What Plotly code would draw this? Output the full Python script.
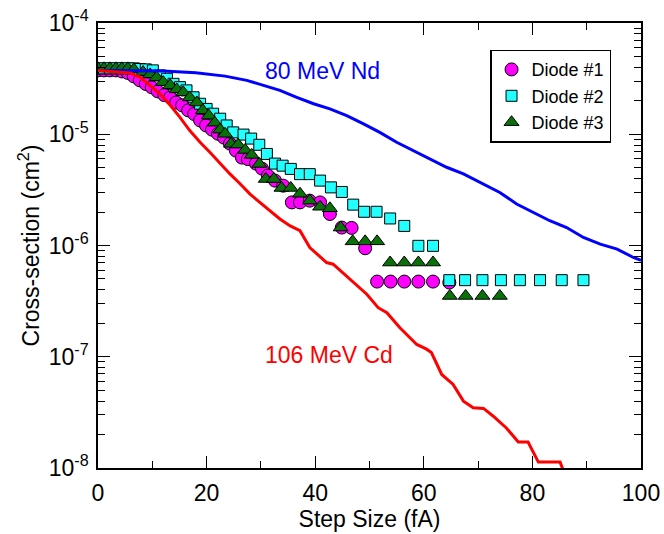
import plotly.graph_objects as go

# ---------------- data ----------------
# 80 MeV Nd (blue curve)
nd_x = [0, 6, 12, 18, 23.4, 27.4, 30.5, 33.5, 36.6, 39.7, 42.7, 45.8, 48.9, 51.9, 55.0, 58.1,
        61.1, 64.2, 67.3, 70.3, 72.2, 74.0, 77.1, 80.2, 83.2, 86.3, 89.4, 92.5, 95.6, 98.6, 100]
nd_y = [3.75e-5, 3.75e-5, 3.71e-5, 3.57e-5, 3.33e-5, 3.05e-5, 2.75e-5, 2.48e-5, 2.15e-5, 1.88e-5,
        1.69e-5, 1.47e-5, 1.24e-5, 1.04e-5, 8.47e-6, 7.13e-6, 6.0e-6, 5.05e-6, 4.40e-6, 3.70e-6,
        3.33e-6, 3.0e-6, 2.36e-6, 1.98e-6, 1.67e-6, 1.45e-6, 1.18e-6, 1.03e-6, 9.29e-7, 7.80e-7, 7.36e-7]

# 106 MeV Cd (red curve)
cd_x = [0, 5.9, 7.7, 9.6, 11.4, 13.3, 15.1, 16.9, 18.8, 20.6, 22.5, 24.3, 26.2, 28.0, 29.8, 31.7,
        33.5, 35.4, 37.2, 39.0, 42.1, 43.3, 46.4, 49.5, 51.6, 53.2, 55.6, 58.7, 60.5, 61.4, 63.3,
        65.4, 67.3, 69.1, 71.0, 72.8, 75.2, 77.4, 79.2, 81.1, 85.1, 86.0]
cd_y = [3.75e-5, 3.56e-5, 3.27e-5, 2.75e-5, 2.31e-5, 1.82e-5, 1.42e-5, 1.08e-5, 8.47e-6, 6.89e-6,
        5.41e-6, 4.40e-6, 3.57e-6, 2.90e-6, 2.44e-6, 2.06e-6, 1.73e-6, 1.50e-6, 1.36e-6, 9.59e-7,
        7.03e-7, 6.79e-7, 4.98e-7, 3.65e-7, 2.76e-7, 2.49e-7, 1.82e-7, 1.29e-7, 1.17e-7, 1.09e-7,
        6.93e-8, 5.64e-8, 3.99e-8, 3.48e-8, 3.43e-8, 2.92e-8, 2.29e-8, 1.71e-8, 1.71e-8, 1.13e-8,
        1.13e-8, 8.7e-9]

# Diode #1 (circles)
d1_x = [0, 1.1, 2.2, 3.3, 4.4, 5.5, 6.6, 7.7, 8.8, 9.9, 11.0, 12.2, 13.3, 14.4, 15.5, 16.6, 17.7,
        18.8, 19.9, 21.0, 22.1, 23.2, 24.3, 25.4, 26.5, 27.6, 29.1, 30.2, 31.3, 32.6, 34.1, 35.7,
        37.2, 39.0, 40.9, 42.7, 44.9, 46.7, 49.2, 51.4, 53.9, 56.4, 59.0, 61.7, 64.7]
d1_y = [3.75e-5, 3.75e-5, 3.75e-5, 3.75e-5, 3.67e-5, 3.56e-5, 3.31e-5, 3.05e-5, 2.83e-5, 2.64e-5,
        2.43e-5, 2.25e-5, 2.14e-5, 1.93e-5, 1.82e-5, 1.64e-5, 1.52e-5, 1.33e-5, 1.20e-5, 1.10e-5,
        1.01e-5, 9.33e-6, 8.24e-6, 7.13e-6, 6.17e-6, 5.98e-6, 5.45e-6, 4.91e-6, 4.25e-6, 3.83e-6,
        3.45e-6, 2.44e-6, 2.44e-6, 2.53e-6, 2.44e-6, 1.92e-6, 1.45e-6, 1.44e-6, 9.44e-7, 4.74e-7,
        4.74e-7, 4.74e-7, 4.74e-7, 4.74e-7, 4.65e-7]

# Diode #2 (squares)
d2_x = [0, 1.1, 2.2, 3.3, 4.4, 5.5, 6.6, 7.7, 8.8, 10.1, 11.4, 12.7, 13.9, 15.1, 16.3, 17.6, 18.8,
        20.0, 21.2, 22.5, 23.7, 24.9, 26.8, 28.2, 29.7, 31.1, 32.6, 34.0, 35.5, 37.2, 39.0, 40.9,
        42.9, 44.9, 47.0, 49.0, 51.3, 53.8, 56.4, 59.0, 61.7, 64.7, 67.6, 70.8, 74.2, 77.7, 81.4,
        85.4, 89.4]
d2_y = [3.91e-5, 3.91e-5, 3.91e-5, 3.91e-5, 3.91e-5, 3.91e-5, 3.91e-5, 3.86e-5, 3.83e-5, 3.75e-5,
        3.38e-5, 3.15e-5, 2.84e-5, 2.65e-5, 2.48e-5, 2.15e-5, 1.88e-5, 1.69e-5, 1.53e-5, 1.38e-5,
        1.20e-5, 1.04e-5, 9.93e-6, 9.14e-6, 8.04e-6, 6.65e-6, 5.45e-6, 5.22e-6, 4.88e-6, 4.38e-6,
        4.38e-6, 3.83e-6, 3.33e-6, 3.03e-6, 2.33e-6, 2.01e-6, 2.01e-6, 1.75e-6, 1.50e-6, 9.93e-7,
        9.93e-7, 4.88e-7, 4.88e-7, 4.88e-7, 4.88e-7, 4.88e-7, 4.88e-7, 4.88e-7, 4.88e-7]

# Diode #3 (triangles)
d3_x = [0, 1.1, 2.2, 3.3, 4.4, 5.5, 6.6, 8.3, 9.6, 10.8, 12.0, 13.3, 14.5, 15.7, 16.9, 18.2, 19.3,
        20.4, 21.5, 22.5, 23.4, 24.5, 25.8, 27.1, 28.3, 29.7, 30.9, 32.4, 33.8, 35.5, 37.2, 39.0,
        40.9, 42.7, 44.7, 46.9, 49.2, 51.4, 53.8, 56.4, 59.0, 61.7, 64.8, 67.7, 70.8, 74.0]
d3_y = [3.91e-5, 3.91e-5, 3.91e-5, 3.91e-5, 3.91e-5, 3.91e-5, 3.83e-5, 3.62e-5, 3.45e-5, 3.24e-5,
        2.94e-5, 2.75e-5, 2.53e-5, 2.38e-5, 2.14e-5, 1.93e-5, 1.64e-5, 1.47e-5, 1.27e-5, 1.10e-5,
        1.01e-5, 8.20e-6, 8.07e-6, 7.23e-6, 6.52e-6, 5.41e-6, 3.96e-6, 3.96e-6, 3.29e-6, 3.29e-6,
        2.92e-6, 2.53e-6, 2.23e-6, 2.16e-6, 1.45e-6, 1.09e-6, 1.09e-6, 1.09e-6, 7.03e-7, 7.03e-7,
        7.03e-7, 7.03e-7, 3.52e-7, 3.52e-7, 3.52e-7, 3.52e-7]

series_names = ["Diode #1", "Diode #2", "Diode #3"]
x_ticks = [0, 20, 40, 60, 80, 100]
x_minor = [10, 30, 50, 70, 90]
y_ticks = [1e-8, 1e-7, 1e-6, 1e-5, 1e-4]
y_ticktext = ["10<sup>-8</sup>", "10<sup>-7</sup>", "10<sup>-6</sup>", "10<sup>-5</sup>", "10<sup>-4</sup>"]
y_minor = [k * 10.0 ** e for e in range(-8, -4) for k in range(2, 10)]

FONT = "Liberation Sans, Arial, Helvetica, sans-serif"

fig = go.Figure()

fig.add_trace(go.Scatter(x=d1_x, y=d1_y, mode="markers", name=series_names[0],
                         marker=dict(symbol="circle", size=13, color="#ff00ff",
                                     line=dict(color="black", width=1))))
fig.add_trace(go.Scatter(x=d2_x, y=d2_y, mode="markers", name=series_names[1],
                         marker=dict(symbol="square", size=11, color="#22ffff",
                                     line=dict(color="black", width=1))))
fig.add_trace(go.Scatter(x=d3_x, y=d3_y, mode="markers", name=series_names[2],
                         marker=dict(symbol="triangle-up", size=13, color="#0a700a",
                                     line=dict(color="black", width=1))))
fig.add_trace(go.Scatter(x=nd_x, y=nd_y, mode="lines", showlegend=False,
                         line=dict(color="#0000ff", width=3)))
fig.add_trace(go.Scatter(x=cd_x, y=cd_y, mode="lines", showlegend=False,
                         line=dict(color="#ff0000", width=3)))

fig.add_annotation(x=30.3, y=-4.43, text="80 MeV Nd", showarrow=False, xanchor="left",
                   yanchor="middle", font=dict(family=FONT, size=23, color="#0000ff"))
fig.add_annotation(x=30.3, y=-6.985, text="106 MeV Cd", showarrow=False, xanchor="left",
                   yanchor="middle", font=dict(family=FONT, size=23, color="#ff0000"))

axis_common = dict(showline=True, linecolor="black", linewidth=1.5, mirror="ticks",
                   ticks="inside", ticklen=12, tickwidth=1.3, tickcolor="black",
                   showgrid=False, zeroline=False, automargin=False,
                   tickfont=dict(family=FONT, size=23, color="black"))

fig.update_xaxes(range=[0, 100], tickmode="array", tickvals=x_ticks,
                 ticklabelstandoff=4,
                 minor=dict(tickmode="array", tickvals=x_minor, ticks="inside", ticklen=7,
                            tickwidth=1.3, tickcolor="black", showgrid=False),
                 title=dict(text="Step Size (fA)", font=dict(family=FONT, size=23, color="black"),
                            standoff=4),
                 **axis_common)
fig.update_yaxes(type="log", range=[-8, -4], tickmode="array", tickvals=y_ticks,
                 ticktext=y_ticktext, ticklabelstandoff=3,
                 minor=dict(tickmode="array", tickvals=y_minor, ticks="inside", ticklen=7,
                            tickwidth=1.3, tickcolor="black", showgrid=False),
                 title=dict(text="Cross-section (cm<sup>2</sup>)",
                            font=dict(family=FONT, size=23, color="black"), standoff=3),
                 **axis_common)

fig.update_layout(
    width=664, height=534,
    margin=dict(l=98, r=23, t=23, b=66),
    plot_bgcolor="white", paper_bgcolor="white",
    font=dict(family=FONT, color="black"),
    legend=dict(x=0.722, y=0.94, xanchor="left", yanchor="top",
                bordercolor="black", borderwidth=1.5, bgcolor="white",
                font=dict(family=FONT, size=18, color="black"),
                itemwidth=30, tracegroupgap=0),
)

fig.write_html("out.html")
